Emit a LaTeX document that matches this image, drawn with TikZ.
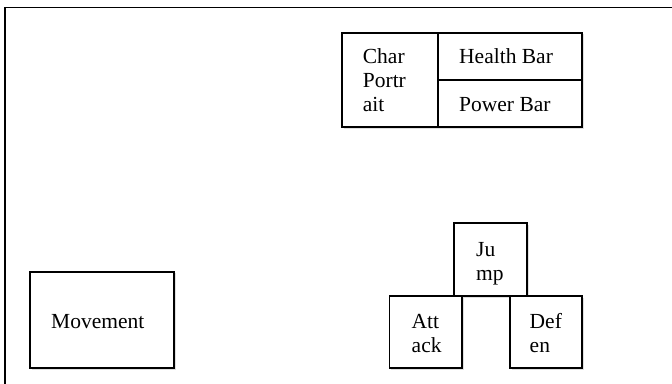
\documentclass[tikz,border=0pt]{standalone}
\usepackage{fontspec}
\setmainfont{Liberation Serif}
\usetikzlibrary{shadows}
\tikzset{
  frame/.style={line width=1.8pt, line cap=rect},
  box/.style={draw, line width=1.8pt, fill=white, inner sep=0pt, outer sep=0pt,
    drop shadow={opacity=0.25, shadow xshift=1.5pt, shadow yshift=-1.5pt, fill=black!50}},
  lbl/.style={anchor=base west, inner sep=0pt, font=\fontsize{21.5}{24}\selectfont}
}
\newcommand{\lines}[1]{\begin{tabular}[t]{@{}l@{}}#1\end{tabular}}
\begin{document}
\begin{tikzpicture}[x=1pt,y=-1pt]
\useasboundingbox (0,0) rectangle (672,383);
\fill[white] (0,0) rectangle (672,383);
% page frame (top and left edges)
\draw[frame] (5,390) -- (5,7.5) -- (680,7.5);
% boxes
\node[box, minimum width=96pt, minimum height=94.3pt] (portrait) at (390,79.85) {};
\node[box, minimum width=144pt, minimum height=47.3pt] (health) at (510,56.35) {};
\node[box, minimum width=144pt, minimum height=47pt] (power) at (510,103.5) {};
\node[box, minimum width=144pt, minimum height=96.6pt] (movement) at (102,320) {};
\node[box, minimum width=73pt, minimum height=72.7pt] (jump) at (490.5,259.65) {};
\node[box, minimum width=72.5pt, minimum height=72.3pt] (attack) at (425.75,332.15) {};
\node[box, minimum width=72pt, minimum height=72.3pt] (defen) at (546,332.15) {};
% labels
\node[lbl] (tportrait) at (362.7,63.3) {\lines{Char\\Portr\\ait}};
\node[lbl] (thealth) at (459,63.3) {Health Bar};
\node[lbl] (tpower) at (459,111.7) {Power Bar};
\node[lbl] (tmovement) at (51,328.3) {Movement};
\node[lbl] (tjump) at (476,256) {\lines{Ju\\mp}};
\node[lbl] (tattack) at (411.5,328.3) {\lines{Att\\ack}};
\node[lbl] (tdefen) at (529.5,328.3) {\lines{Def\\en}};
\end{tikzpicture}
\end{document}
